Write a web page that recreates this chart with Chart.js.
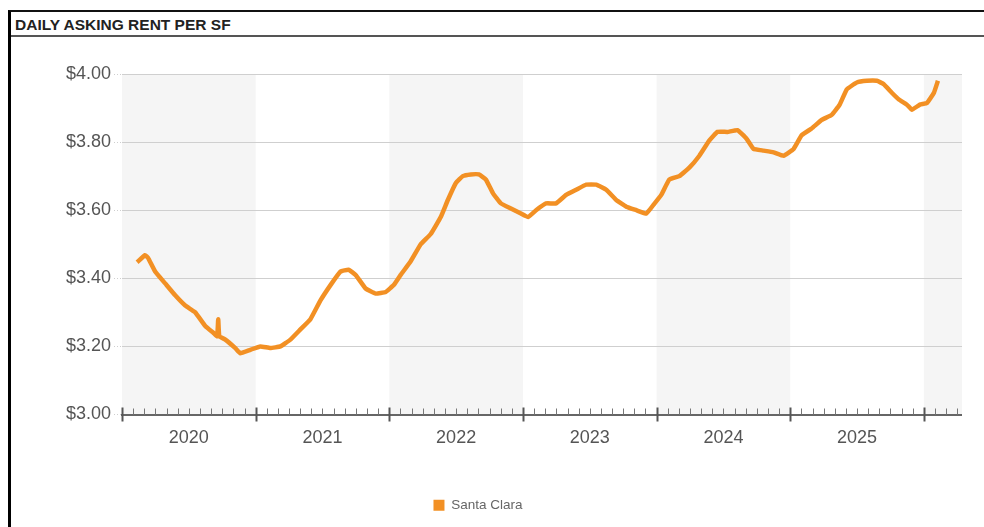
<!DOCTYPE html>
<html>
<head>
<meta charset="utf-8">
<title>Daily Asking Rent Per SF</title>
<script src="https://cdn.jsdelivr.net/npm/chart.js@4.4.1/dist/chart.umd.min.js"></script>
<style>
  html, body { margin: 0; padding: 0; background: #fff; overflow: hidden; }
  body { width: 984px; height: 527px; position: relative; font-family: 'Liberation Sans', Arial, sans-serif; }
  #frame { position: absolute; left: 8px; top: 10px; width: 1000px; height: 540px; border-left: 3px solid #000; border-top: 2px solid #111; }
  #title { position: absolute; left: 11px; top: 12px; width: 990px; height: 25px; border-bottom: 2px solid #555;
           font-size: 15.5px; font-weight: bold; color: #222; line-height: 26px; padding-left: 4px; box-sizing: border-box; }
  #wrap { position: absolute; left: -6px; top: 40px; width: 968px; height: 487px; }
</style>
</head>
<body>
<div id="frame"></div>
<div id="title">DAILY ASKING RENT PER SF</div>
<div id="wrap"><canvas id="rent"></canvas></div>
<script>
// time in decimal years
const t = [
  2020.113, 2020.173, 2020.195, 2020.248, 2020.323, 2020.398, 2020.473, 2020.548, 2020.623, 2020.683,
  2020.712, 2020.720, 2020.728, 2020.773, 2020.848, 2020.885, 2020.960, 2021.035, 2021.110, 2021.185,
  2021.260, 2021.335, 2021.410, 2021.485, 2021.560, 2021.635, 2021.695, 2021.748, 2021.823, 2021.898,
  2021.973, 2022.033, 2022.085, 2022.160, 2022.235, 2022.310, 2022.385, 2022.438, 2022.498, 2022.550,
  2022.610, 2022.670, 2022.723, 2022.775, 2022.835, 2022.910, 2022.985, 2023.038, 2023.098, 2023.173,
  2023.248, 2023.323, 2023.398, 2023.473, 2023.548, 2023.623, 2023.698, 2023.773, 2023.848, 2023.923,
  2023.975, 2024.035, 2024.095, 2024.170, 2024.245, 2024.320, 2024.395, 2024.455, 2024.530, 2024.605,
  2024.673, 2024.725, 2024.800, 2024.875, 2024.950, 2025.025, 2025.085, 2025.160, 2025.235, 2025.310,
  2025.370, 2025.423, 2025.498, 2025.573, 2025.648, 2025.700, 2025.760, 2025.813, 2025.873, 2025.910,
  2025.970, 2026.023, 2026.075, 2026.105
];
// Santa Clara asking rent, $ per SF
const santaClara = [
  3.447, 3.468, 3.460, 3.420, 3.385, 3.350, 3.320, 3.300, 3.260, 3.240,
  3.230, 3.280, 3.230, 3.220, 3.195, 3.180, 3.190, 3.200, 3.195, 3.200,
  3.220, 3.250, 3.280, 3.335, 3.380, 3.420, 3.425, 3.410, 3.370, 3.355,
  3.360, 3.380, 3.410, 3.450, 3.500, 3.530, 3.580, 3.630, 3.680, 3.700,
  3.705, 3.705, 3.690, 3.650, 3.620, 3.605, 3.590, 3.580, 3.600, 3.620,
  3.620, 3.645, 3.660, 3.675, 3.675, 3.660, 3.630, 3.610, 3.600, 3.590,
  3.615, 3.645, 3.690, 3.700, 3.725, 3.760, 3.805, 3.830, 3.830, 3.835,
  3.810, 3.780, 3.775, 3.770, 3.760, 3.780, 3.820, 3.840, 3.865, 3.880,
  3.910, 3.955, 3.975, 3.980, 3.980, 3.970, 3.945, 3.925, 3.910, 3.895,
  3.910, 3.915, 3.945, 3.980
];
const seriesName = 'Santa Clara';
const yTicks = [3.0, 3.2, 3.4, 3.6, 3.8, 4.0];
const xStart = 2020;
const xEnd = 2026.285;

const orange = '#f29024';
const font = "'Liberation Sans', Arial, sans-serif";

// shaded bands behind every other year
const yearBands = {
  id: 'yearBands',
  beforeDraw(chart) {
    const { ctx, chartArea, scales } = chart;
    ctx.save();
    ctx.fillStyle = '#f5f5f5';
    for (let y = 2020; y < xEnd; y += 2) {
      const x1 = Math.max(scales.x.getPixelForValue(y), chartArea.left);
      const x2 = Math.min(scales.x.getPixelForValue(y + 1), chartArea.right);
      ctx.fillRect(x1, chartArea.top, x2 - x1, chartArea.bottom - chartArea.top);
    }
    ctx.restore();
  }
};

// month ticks point up, year ticks cross the axis
const monthTicks = {
  id: 'monthTicks',
  afterDraw(chart) {
    const { ctx, scales } = chart;
    const sx = scales.x;
    const y0 = sx.top;
    ctx.save();
    sx.ticks.forEach(tk => {
      const k = Math.round((tk.value - xStart) * 12);
      const px = Math.round(sx.getPixelForValue(tk.value)) + 0.5;
      ctx.beginPath();
      if (k % 12 === 0) {
        ctx.strokeStyle = '#555';
        ctx.lineWidth = 2;
        ctx.moveTo(px, y0 - 7);
        ctx.lineTo(px, y0 + 7);
      } else {
        ctx.strokeStyle = '#777';
        ctx.lineWidth = 1;
        ctx.moveTo(px, y0 - 6);
        ctx.lineTo(px, y0);
      }
      ctx.stroke();
    });
    ctx.restore();
  }
};

new Chart(document.getElementById('rent'), {
  type: 'line',
  data: {
    datasets: [{
      label: seriesName,
      data: t.map((x, i) => ({ x: x, y: santaClara[i] })),
      borderColor: orange,
      backgroundColor: orange,
      borderWidth: 4.5,
      pointRadius: 0,
      tension: 0.1,
      fill: false
    }]
  },
  options: {
    responsive: true,
    maintainAspectRatio: false,
    animation: false,
    layout: { padding: { top: 34, left: 0, right: 0, bottom: 5 } },
    plugins: {
      tooltip: { enabled: false },
      legend: {
        position: 'bottom',
        labels: {
          boxWidth: 11,
          boxHeight: 11,
          padding: 34,
          color: '#666',
          font: { family: font, size: 13.5 },
          generateLabels: c => Chart.defaults.plugins.legend.labels.generateLabels(c).map(l => ({ ...l, lineWidth: 0 }))
        }
      }
    },
    scales: {
      x: {
        type: 'linear',
        min: xStart,
        max: xEnd,
        afterBuildTicks: s => {
          const ticks = [];
          for (let k = 0; xStart + k / 12 <= xEnd; k++) ticks.push({ value: xStart + k / 12 });
          s.ticks = ticks;
        },
        afterFit: s => { s.height = 50; s.paddingRight = 0; s.paddingLeft = 0; },
        grid: { drawOnChartArea: false, drawTicks: false },
        border: { display: true, color: '#666', width: 2 },
        ticks: {
          autoSkip: false,
          maxRotation: 0,
          padding: 13,
          color: '#555',
          font: { family: font, size: 18 },
          callback: v => {
            const k = Math.round((v - xStart) * 12);
            return k % 12 === 6 ? String(xStart + (k - 6) / 12) : '';
          }
        }
      },
      y: {
        min: 3,
        max: 4,
        afterBuildTicks: s => { s.ticks = yTicks.map(v => ({ value: v })); },
        afterFit: s => { s.width = 128; },
        border: { display: false },
        grid: {
          color: '#cfcfcf',
          lineWidth: 1,
          tickLength: 8,
          tickColor: '#cfcfcf',
          borderDash: [1, 2],
          tickBorderDash: [1, 2]
        },
        ticks: {
          padding: 3,
          color: '#555',
          font: { family: font, size: 18 },
          callback: v => '$' + Number(v).toFixed(2)
        }
      }
    }
  },
  plugins: [yearBands, monthTicks]
});
</script>
</body>
</html>
